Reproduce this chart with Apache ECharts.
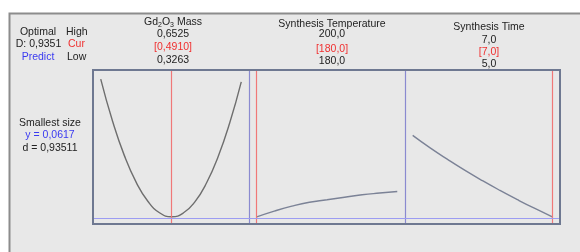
<!DOCTYPE html>
<html>
<head>
<meta charset="utf-8">
<script src="https://cdn.jsdelivr.net/npm/echarts@6/dist/echarts.min.js"></script>
<style>
  html, body { margin: 0; padding: 0; background: #fff; overflow: hidden; }
  #chart { width: 580px; height: 252px; }
</style>
</head>
<body>
<div id="chart"></div>
<script>
// factor settings (High / Cur / Low)
const factorNames = ['Gd{sub|2}O{sub|3} Mass', 'Synthesis Temperature', 'Synthesis Time']
const highValues = [0.6525, 200.0, 7.0]
const curValues = [0.4910, 180.0, 7.0]
const lowValues = [0.3263, 180.0, 5.0]
const valueDigits = [4, 1, 1]

// overall result
const optimalD = 0.9351
const responseGoal = 'Smallest size'
const predictY = 0.0617
const desirability = 0.93511

// response curves
const massX = [0.3263, 0.3538, 0.3812, 0.4087, 0.4361, 0.4636, 0.4910, 0.5179, 0.5448, 0.5718, 0.5987, 0.6256, 0.6525]
const massY = [0.2853, 0.2168, 0.1610, 0.1175, 0.0865, 0.0679, 0.0617, 0.0678, 0.0860, 0.1165, 0.1591, 0.2139, 0.2808]
const tempX = [180, 182.5, 185, 187.5, 190, 192.5, 195, 197.5, 200]
const tempY = [0.0617, 0.0710, 0.0790, 0.0853, 0.0893, 0.0935, 0.0975, 0.1003, 0.1028]
const timeX = [5.0, 5.25, 5.5, 5.75, 6.0, 6.25, 6.5, 6.75, 7.0]
const timeY = [0.1938, 0.1735, 0.1548, 0.1370, 0.1203, 0.1045, 0.0895, 0.0752, 0.0617]

const curves = [
    [massX, massY],
    [tempX, tempY],
    [timeX, timeY]
]

const fmt = (v, d) => v.toFixed(d).replace('.', ',')

const chartInstance = echarts.init(document.getElementById('chart'), null, { renderer: 'canvas' })

const FONT = '"Liberation Sans", Arial, sans-serif'
const panelLeft = [93, 249, 405]
const panelWidth = [156, 156, 155]
const panelTop = 70
const panelHeight = 154
const headerX = [173, 332, 489]
const headerY = [
    [22, 34.5, 46.7, 60],
    [24, 34.5, 49, 61],
    [27.3, 40, 52.3, 64]
]
const curveColors = ['#6e6e6e', '#7b8296', '#7b8296']

const grids = []
const xAxes = []
const yAxes = []
const series = []
curves.forEach((c, i) => {
    const span = highValues[i] - lowValues[i]
    grids.push({
        left: panelLeft[i],
        top: panelTop,
        width: panelWidth[i],
        height: panelHeight,
        show: false
    })
    xAxes.push({
        gridIndex: i,
        type: 'value',
        min: lowValues[i] - span * 0.055,
        max: highValues[i] + span * 0.055,
        show: false
    })
    yAxes.push({
        gridIndex: i,
        type: 'value',
        min: 0.05,
        max: 0.30,
        axisLabel: { show: false },
        axisTick: { show: false },
        splitLine: { show: false },
        axisLine: {
            show: i > 0,
            lineStyle: { color: '#8a8ad0', width: 1.2 }
        }
    })
    series.push({
        type: 'line',
        xAxisIndex: i,
        yAxisIndex: i,
        data: c[0].map((x, k) => [x, c[1][k]]),
        showSymbol: false,
        smooth: true,
        silent: true,
        lineStyle: { color: curveColors[i], width: 1.4 },
        markLine: {
            silent: true,
            symbol: 'none',
            label: { show: false },
            animation: false,
            data: [
                { xAxis: curValues[i], lineStyle: { color: '#f07878', width: 1.2, type: 'solid' } },
                { yAxis: predictY, lineStyle: { color: '#9c9cf2', width: 1.2, type: 'solid' } }
            ]
        }
    })
})

const texts = []
const addText = (x, y, text, color, align, extra) => {
    texts.push({
        type: 'text',
        x: x,
        y: y,
        z: 10,
        style: Object.assign({
            text: text,
            fill: color,
            font: '10.5px ' + FONT,
            align: align || 'center',
            verticalAlign: 'middle'
        }, extra || {})
    })
}

// left legend block
addText(38, 32.3, 'Optimal', '#222')
addText(66, 32.3, 'High', '#222', 'left')
addText(38.5, 44.3, 'D: ' + fmt(optimalD, 4), '#222')
addText(68, 44.3, 'Cur', '#f03030', 'left')
addText(38, 57.3, 'Predict', '#3a3af0')
addText(67, 57.3, 'Low', '#222', 'left')

addText(50, 123, responseGoal, '#222')
addText(50, 135.5, 'y = ' + fmt(predictY, 4), '#3a3af0')
addText(50, 148, 'd = ' + fmt(desirability, 5), '#222')

// factor headers
factorNames.forEach((name, i) => {
    addText(headerX[i], headerY[i][0], name, '#222', 'center', {
        rich: {
            sub: { fontSize: 7, verticalAlign: 'bottom', padding: [6, 0, 0, 0], fill: '#222', fontFamily: FONT }
        }
    })
    addText(headerX[i], headerY[i][1], fmt(highValues[i], valueDigits[i]), '#222')
    addText(headerX[i], headerY[i][2], '[' + fmt(curValues[i], valueDigits[i]) + ']', '#f03030')
    addText(headerX[i], headerY[i][3], fmt(lowValues[i], valueDigits[i]), '#222')
})

const initOption = {
    animation: false,
    backgroundColor: '#ffffff',
    grid: grids,
    xAxis: xAxes,
    yAxis: yAxes,
    series: series,
    graphic: [
        {
            type: 'rect',
            z: -10,
            shape: { x: 9.5, y: 13.5, width: 640, height: 260 },
            style: { fill: '#e8e8e8', stroke: '#8c8c8c', lineWidth: 2 }
        },
        {
            type: 'rect',
            z: 20,
            silent: true,
            shape: { x: panelLeft[0], y: panelTop, width: 560 - panelLeft[0], height: panelHeight },
            style: { fill: 'none', stroke: '#6e7891', lineWidth: 2 }
        }
    ].concat(texts)
}
chartInstance.setOption(initOption)
</script>
</body>
</html>
